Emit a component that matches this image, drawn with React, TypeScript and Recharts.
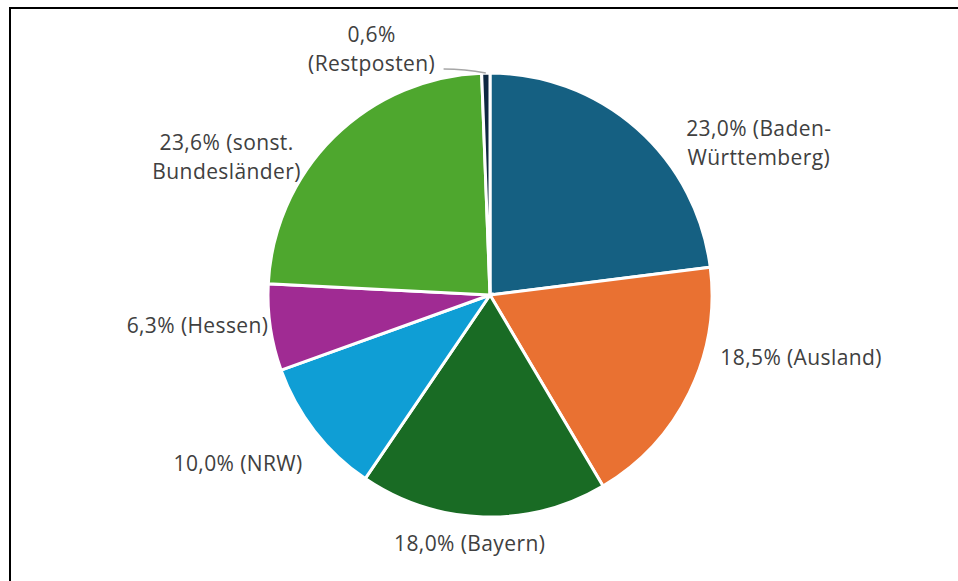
import React from 'react';
import { PieChart, Pie, Cell } from 'recharts';

const categories = ['Baden-Württemberg', 'Ausland', 'Bayern', 'NRW', 'Hessen', 'sonst. Bundesländer', 'Restposten'];
const shares = [23.0, 18.5, 18.0, 10.0, 6.3, 23.6, 0.6];
const labelTexts = [
  ['23,0% (Baden-', 'Württemberg)'],
  ['18,5% (Ausland)'],
  ['18,0% (Bayern)'],
  ['10,0% (NRW)'],
  ['6,3% (Hessen)'],
  ['23,6% (sonst.', 'Bundesländer)'],
  ['0,6%', '(Restposten)'],
];
const colors = ['#156082', '#E97132', '#196B24', '#0F9ED5', '#A02B93', '#4EA72E', '#0E2841'];

// label placement nudges relative to the polar anchor just outside each slice
const labelNudges = [
  [114, 23],
  [101, -41],
  [-13, 14],
  [-67, 25],
  [-61, -4],
  [-99, 28],
  [-114, -13],
];

const data = categories.map((name, i) => ({ name, value: shares[i] }));
const RAD = Math.PI / 180;
const LINE_H = 29;

const renderLabel = (props: any) => {
  const { cx, cy, midAngle, outerRadius, index } = props;
  const r = outerRadius + 12;
  const ax = cx + r * Math.cos(-midAngle * RAD);
  const ay = cy + r * Math.sin(-midAngle * RAD);
  const [nx, ny] = labelNudges[index];
  const x = ax + nx;
  const y = ay + ny;
  const lines = labelTexts[index];
  const y0 = y - ((lines.length - 1) * LINE_H) / 2;
  let leader = null;
  if (index === 6) {
    const ex = cx + outerRadius * Math.cos(-midAngle * RAD);
    const ey = cy + outerRadius * Math.sin(-midAngle * RAD);
    const sx = x + 72;
    const sy = y + 21;
    leader = (
      <path
        d={`M${sx},${sy} Q${(sx + ex) / 2},${sy} ${ex},${ey}`}
        stroke="#A6A6A6"
        strokeWidth={1.5}
        fill="none"
      />
    );
  }
  return (
    <g key={`lbl-${index}`}>
      {leader}
      <text
        x={x}
        y={y0}
        textAnchor="middle"
        dominantBaseline="central"
        fill="#404040"
        fontSize={21}
        letterSpacing={0.4}
        fontFamily="'Open Sans', sans-serif"
      >
        {lines.map((t, i) => (
          <tspan key={i} x={x} y={y0 + i * LINE_H}>
            {t}
          </tspan>
        ))}
      </text>
    </g>
  );
};

export default function App() {
  return (
    <div style={{ position: 'absolute', left: 0, top: 0, width: 958, height: 581, background: '#fff', overflow: 'hidden' }}>
      <div
        style={{
          position: 'absolute',
          left: 9,
          top: 7,
          width: 1000,
          height: 700,
          borderTop: '2px solid #000',
          borderLeft: '2px solid #000',
        }}
      />
      <div style={{ position: 'absolute', left: 0, top: 0 }}>
        <PieChart width={958} height={581} margin={{ top: 0, right: 0, bottom: 0, left: 0 }}>
          <Pie
            data={data}
            dataKey="value"
            nameKey="name"
            cx={490}
            cy={295}
            outerRadius={222}
            startAngle={90}
            endAngle={-270}
            stroke="#ffffff"
            strokeWidth={3}
            label={renderLabel}
            labelLine={false}
            isAnimationActive={false}
          >
            {data.map((d, i) => (
              <Cell key={d.name} fill={colors[i]} />
            ))}
          </Pie>
        </PieChart>
      </div>
    </div>
  );
}
